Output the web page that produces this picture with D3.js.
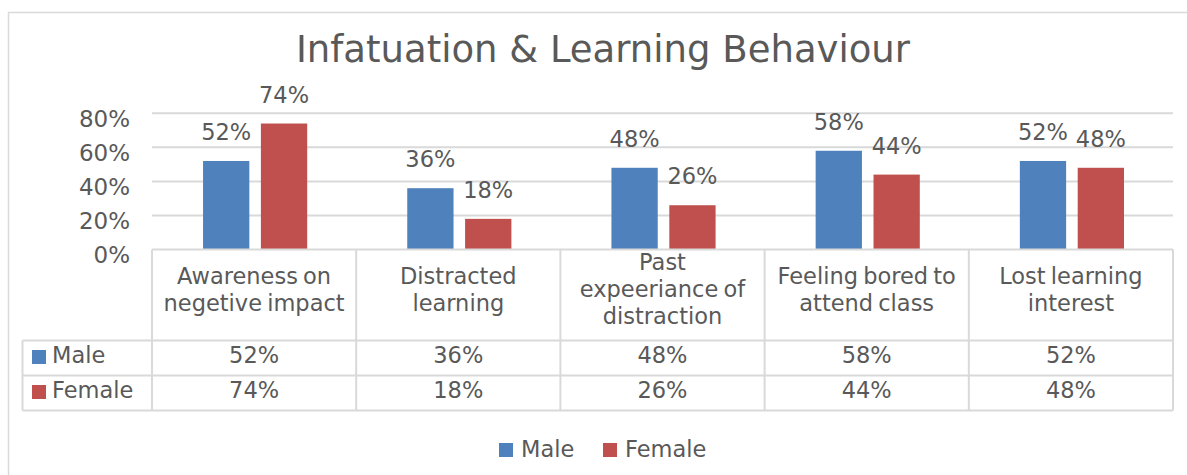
<!DOCTYPE html>
<html>
<head>
<meta charset="utf-8">
<script src="https://cdn.jsdelivr.net/npm/d3@7"></script>
<style>
  body { margin: 0; background: #fff; }
  text { font-family: "DejaVu Sans", sans-serif; fill: #595959; }
</style>
</head>
<body>
<div id="chart"></div>
<script>
const WIDTH = 1187;
const HEIGHT = 475;

// data
const categories = ["Awareness on\nnegetive impact", "Distracted\nlearning", "Past\nexpeeriance of\ndistraction", "Feeling bored to\nattend class", "Lost learning\ninterest"];
const seriesNames = ["Male", "Female"];
const male = [0.52, 0.36, 0.48, 0.58, 0.52];
const female = [0.74, 0.18, 0.26, 0.44, 0.48];
const yTicks = [0, 0.2, 0.4, 0.6, 0.8];
const colors = ["#4f81bd", "#c0504d"];

const seriesVals = [male, female];
const fmt = d3.format(".0%");

let svg = d3.select("#chart")
    .append("svg")
    .attr("width", WIDTH)
    .attr("height", HEIGHT);

// outer frame of the chart (runs off the page on the right and bottom)
svg.append("rect")
    .attr("x", 8.5).attr("y", 12.5)
    .attr("width", 1300).attr("height", 600)
    .attr("fill", "none")
    .attr("stroke", "#d9d9d9")
    .attr("stroke-width", 1.5);

svg.append("text")
    .attr("x", 603)
    .attr("y", 62)
    .attr("text-anchor", "middle")
    .style("font-size", "37px")
    .text("Infatuation & Learning Behaviour");

// scales
let x = d3.scaleBand()
    .domain(categories)
    .range([152, 1173]);

let x1 = d3.scaleBand()
    .domain(seriesNames)
    .range([x.bandwidth() * 0.25, x.bandwidth() * 0.76])
    .paddingInner(0.2);

let y = d3.scaleLinear()
    .domain([0, 0.8])
    .range([249.5, 113.3]);

// gridlines
svg.append("g")
    .selectAll("line")
    .data(yTicks.slice(1))
    .enter()
    .append("line")
    .attr("x1", 152).attr("x2", 1173)
    .attr("y1", d => y(d)).attr("y2", d => y(d))
    .attr("stroke", "#d9d9d9")
    .attr("stroke-width", 2);

// y axis labels
let yAxis = svg.append("g")
    .attr("transform", "translate(152,0)")
    .call(d3.axisLeft(y).tickValues(yTicks).tickFormat(fmt).tickSize(0).tickPadding(22));
yAxis.select(".domain").remove();
yAxis.selectAll("text")
    .attr("dy", "0.58em")
    .style("font-size", "23px")
    .style("font-family", "DejaVu Sans, sans-serif")
    .attr("fill", "#595959");

// bars
let groups = svg.append("g")
    .selectAll("g")
    .data(categories)
    .enter()
    .append("g")
    .attr("transform", d => `translate(${x(d)},0)`);

seriesNames.forEach(function(s, si) {
    groups.append("rect")
        .attr("x", x1(s))
        .attr("width", x1.bandwidth())
        .attr("y", (d, i) => y(seriesVals[si][i]))
        .attr("height", (d, i) => y(0) - y(seriesVals[si][i]))
        .attr("fill", colors[si]);

    groups.append("text")
        .attr("x", x1(s) + x1.bandwidth() / 2)
        .attr("y", (d, i) => y(seriesVals[si][i]) - 21)
        .attr("text-anchor", "middle")
        .style("font-size", "22.5px")
        .text((d, i) => fmt(seriesVals[si][i]));
});

// data table under the chart
const headerTop = 249.5, headerBot = 340.5, rowH = 35, tableLeft = 22.5;
const tableColor = "#d9d9d9";
let table = svg.append("g")
    .attr("stroke", tableColor)
    .attr("stroke-width", 2);

// horizontal lines
table.append("line").attr("x1", 152).attr("x2", 1173).attr("y1", headerTop).attr("y2", headerTop);
[0, 1, 2].forEach(function(r) {
    table.append("line")
        .attr("x1", tableLeft).attr("x2", 1173)
        .attr("y1", headerBot + r * rowH).attr("y2", headerBot + r * rowH);
});
// vertical lines
table.append("line").attr("x1", tableLeft).attr("x2", tableLeft)
    .attr("y1", headerBot).attr("y2", headerBot + 2 * rowH);
categories.concat(["end"]).forEach(function(c, i) {
    let xx = i < categories.length ? x(c) : x(categories[categories.length - 1]) + x.bandwidth();
    table.append("line").attr("x1", xx).attr("x2", xx)
        .attr("y1", headerTop).attr("y2", headerBot + 2 * rowH);
});

// category labels
groups.append("text")
    .attr("text-anchor", "middle")
    .style("font-size", "22.5px")
    .style("word-spacing", "-2px")
    .each(function(d) {
        let lines = d.split("\n");
        let el = d3.select(this);
        lines.forEach(function(l, li) {
            el.append("tspan")
                .attr("x", x.bandwidth() / 2)
                .attr("y", 297 + (li - (lines.length - 1) / 2) * 27)
                .text(l);
        });
    });

// table rows
seriesNames.forEach(function(s, si) {
    let rowTop = headerBot + si * rowH;
    svg.append("rect")
        .attr("x", 32).attr("y", rowTop + 9.5)
        .attr("width", 14).attr("height", 14)
        .attr("fill", colors[si]);
    svg.append("text")
        .attr("x", 52)
        .attr("y", rowTop + 22.5)
        .style("font-size", "22.5px")
        .text(s);
    groups.append("text")
        .attr("x", x.bandwidth() / 2)
        .attr("y", rowTop + 22.5)
        .attr("text-anchor", "middle")
        .style("font-size", "22.5px")
        .text((d, i) => fmt(seriesVals[si][i]));
});

// legend at the bottom
const legendX = [499, 603];
seriesNames.forEach(function(s, si) {
    svg.append("rect")
        .attr("x", legendX[si]).attr("y", 443)
        .attr("width", 14).attr("height", 14)
        .attr("fill", colors[si]);
    svg.append("text")
        .attr("x", legendX[si] + 22)
        .attr("y", 457)
        .style("font-size", "22.5px")
        .text(s);
});
</script>
</body>
</html>
